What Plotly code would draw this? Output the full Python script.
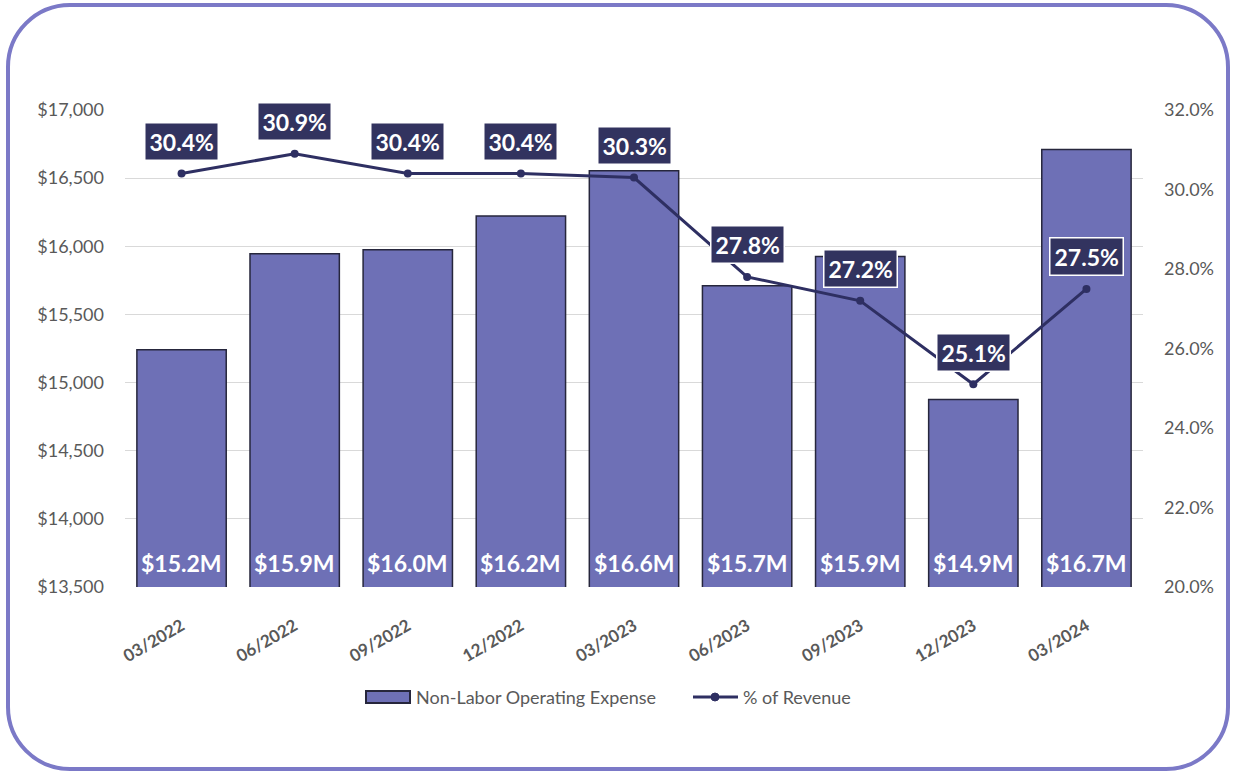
import plotly.graph_objects as go

categories = ["03/2022", "06/2022", "09/2022", "12/2022", "03/2023",
              "06/2023", "09/2023", "12/2023", "03/2024"]
expense_k = [15240, 15945, 15975, 16222, 16555, 15710, 15925, 14875, 16710]
expense_labels = ["$15.2M", "$15.9M", "$16.0M", "$16.2M", "$16.6M",
                  "$15.7M", "$15.9M", "$14.9M", "$16.7M"]
pct_revenue = [30.4, 30.9, 30.4, 30.4, 30.3, 27.8, 27.2, 25.1, 27.5]
series_names = ["Non-Labor Operating Expense", "% of Revenue"]

W, H = 1233, 773
L, R, T, B = 125, 1143, 110, 587
Y_MIN, Y_MAX = 13500, 17000

def px(x):
    return (x - L) / (R - L)

def py(y):
    return (B - y) / (B - T)

FONT = "Lato, 'Open Sans', sans-serif"
NAVY = "#32335F"
LINE = "#2E2F62"
BAR = "#6E70B6"
BAR_EDGE = "#26263C"
GRAY = "#595959"

fig = go.Figure()
fig.add_trace(go.Bar(
    x=categories, y=expense_k, name=series_names[0],
    marker=dict(color=BAR, line=dict(color=BAR_EDGE, width=1.5)),
    yaxis="y", hoverinfo="skip", showlegend=False,
))
fig.add_trace(go.Scatter(
    x=categories, y=pct_revenue, name=series_names[1], mode="lines+markers",
    line=dict(color=LINE, width=3), marker=dict(size=8, color=LINE),
    yaxis="y2", showlegend=False,
))

# bar value labels near the bar base
for c, lab in zip(categories, expense_labels):
    fig.add_annotation(
        x=c, y=Y_MIN, xref="x", yref="y", text=f"<b>{lab}</b>",
        showarrow=False, yanchor="bottom", yshift=8,
        font=dict(color="white", size=23, family=FONT),
    )

# percentage labels above the line points
for c, v in zip(categories, pct_revenue):
    fig.add_annotation(
        x=c, y=v, xref="x", yref="y2", text=f"<b>{v:.1f}%</b>",
        showarrow=False, yshift=32,
        font=dict(color="white", size=23, family=FONT),
        bgcolor=NAVY, bordercolor="white", borderwidth=1.5, borderpad=4,
    )

# custom legend (wide bar swatch like the original)
fig.add_shape(type="rect", xref="paper", yref="paper",
              x0=px(366), x1=px(410), y0=py(703), y1=py(691),
              fillcolor=BAR, line=dict(color=BAR_EDGE, width=2))
fig.add_annotation(xref="paper", yref="paper", x=px(414), y=py(697),
                   xanchor="left", yanchor="middle", showarrow=False,
                   text=series_names[0], font=dict(size=18, color=GRAY))
fig.add_shape(type="line", xref="paper", yref="paper",
              x0=px(693), x1=px(738), y0=py(697), y1=py(697),
              line=dict(color=LINE, width=3))
fig.add_shape(type="circle", xref="paper", yref="paper",
              x0=px(711), x1=px(719), y0=py(701), y1=py(693),
              fillcolor=LINE, line=dict(color=LINE, width=1))
fig.add_annotation(xref="paper", yref="paper", x=px(741), y=py(697),
                   xanchor="left", yanchor="middle", showarrow=False,
                   text=series_names[1], font=dict(size=18, color=GRAY))

# rounded outer border
l, t, r, b, rad = 8, 5, 1228, 769, 62
k = 0.5523 * rad
path = (
    f"M {px(l+rad)},{py(t)} L {px(r-rad)},{py(t)} "
    f"C {px(r-rad+k)},{py(t)} {px(r)},{py(t+rad-k)} {px(r)},{py(t+rad)} "
    f"L {px(r)},{py(b-rad)} "
    f"C {px(r)},{py(b-rad+k)} {px(r-rad+k)},{py(b)} {px(r-rad)},{py(b)} "
    f"L {px(l+rad)},{py(b)} "
    f"C {px(l+rad-k)},{py(b)} {px(l)},{py(b-rad+k)} {px(l)},{py(b-rad)} "
    f"L {px(l)},{py(t+rad)} "
    f"C {px(l)},{py(t+rad-k)} {px(l+rad-k)},{py(t)} {px(l+rad)},{py(t)} Z"
)
fig.add_shape(type="path", path=path, xref="paper", yref="paper",
              line=dict(color="#7B79C7", width=4), layer="above")

fig.update_layout(
    width=W, height=H, autosize=False,
    margin=dict(l=L, r=W - R, t=T, b=H - B),
    paper_bgcolor="white", plot_bgcolor="white",
    font=dict(family=FONT, color=GRAY, size=16),
    bargap=0.21,
    showlegend=False,
    xaxis=dict(tickangle=-30, showgrid=False, showline=False, ticks="",
               ticklabelstandoff=25,
               tickfont=dict(size=17, color=GRAY, weight="bold")),
    yaxis=dict(range=[Y_MIN, Y_MAX], dtick=500, tickprefix="$", tickformat=",",
               showgrid=True, gridcolor="#D9D9D9", gridwidth=1,
               zeroline=False, showline=False, ticklabelstandoff=20,
               tickfont=dict(size=18, color=GRAY)),
    yaxis2=dict(range=[20, 32], dtick=2, ticksuffix="%", tickformat=".1f",
                overlaying="y", side="right", showgrid=False, zeroline=False,
                showline=False, ticklabelstandoff=20,
                tickfont=dict(size=18, color=GRAY)),
)

fig.write_html("out.html")
